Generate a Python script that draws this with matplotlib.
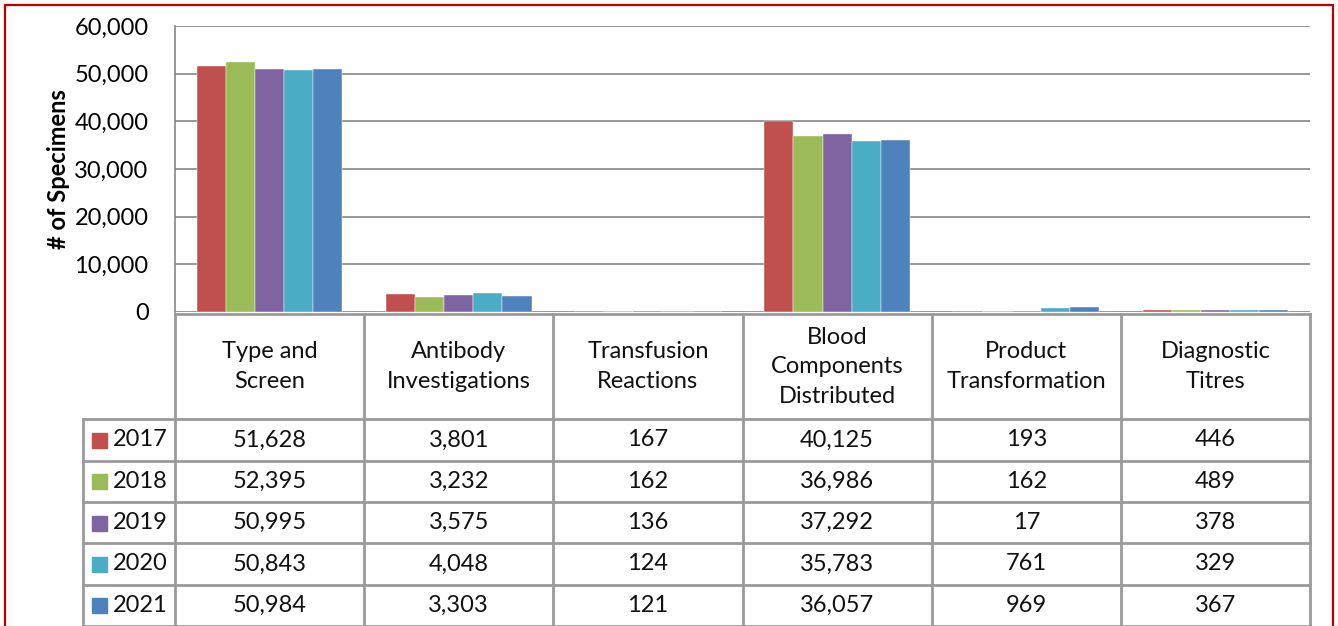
import matplotlib
matplotlib.use("Agg")
import matplotlib.pyplot as plt
from matplotlib.patches import Rectangle
from matplotlib.lines import Line2D
import numpy as np

categories = ["Type and\nScreen", "Antibody\nInvestigations", "Transfusion\nReactions",
              "Blood\nComponents\nDistributed", "Product\nTransformation", "Diagnostic\nTitres"]
years = ["2017", "2018", "2019", "2020", "2021"]
v2017 = [51628, 3801, 167, 40125, 193, 446]
v2018 = [52395, 3232, 162, 36986, 162, 489]
v2019 = [50995, 3575, 136, 37292, 17, 378]
v2020 = [50843, 4048, 124, 35783, 761, 329]
v2021 = [50984, 3303, 121, 36057, 969, 367]
series = [v2017, v2018, v2019, v2020, v2021]
colors = ["#C0504D", "#9BBB59", "#8064A2", "#4BACC6", "#4F81BD"]
yticks = [0, 10000, 20000, 30000, 40000, 50000, 60000]

FONT = "Lato"
FS = 17
W, H = 1338, 626
fig = plt.figure(figsize=(W / 100, H / 100), dpi=100)
fig.patch.set_facecolor("white")

# red border
fig.patches.append(Rectangle((5 / W, -0.05), (1333 - 5) / W, (H - 5) / H + 0.05,
                             transform=fig.transFigure, fill=False,
                             edgecolor="#C00000", linewidth=1.6))

L, R = 175, 1310
TOP, BASE = 26, 312
ax = fig.add_axes([L / W, (H - BASE) / H, (R - L) / W, (BASE - TOP) / H])
n = len(categories)
x = np.arange(n)
bw = 0.154
for i, (vals, c) in enumerate(zip(series, colors)):
    ax.bar(x + (i - 2) * bw, vals, width=bw, color=c, edgecolor="white", linewidth=0.3, zorder=3)
ax.set_xlim(-0.5, n - 0.5)
ax.set_ylim(0, 60000)
ax.set_yticks(yticks)
ax.set_yticklabels([f"{t:,}" for t in yticks], fontsize=FS, family=FONT)
ax.tick_params(axis="y", length=0, pad=19)
ax.set_xticks([])
ax.grid(axis="y", color="#868686", linewidth=1.2, zorder=0)
for s in ["top", "right", "bottom"]:
    ax.spines[s].set_visible(False)
ax.spines["left"].set_color("#868686")
ax.spines["left"].set_linewidth(1.2)
ax.set_ylabel("# of Specimens", fontsize=FS, family=FONT, fontweight="bold")
ax.yaxis.label.set_va("center")
ax.yaxis.set_label_coords(-(L - 58) / (R - L), 0.5)

# table axes
tax = fig.add_axes([L / W, 0, (R - L) / W, BASE / H])
tax.set_xlim(-0.5, n - 0.5)
hdr = 106
rowh = (H - BASE - hdr) / len(years)
tax.set_ylim(H - BASE, 0)
tax.axis("off")
lc = "#9A9A9A"
lw = 2.0
cw = (R - L) / n
legx = -0.5 - (L - 83) / cw
# horizontal lines
tax.add_line(Line2D([-0.5, n - 0.5], [0, 0], color=lc, lw=lw, clip_on=False))
for r in range(len(years) + 1):
    yy = hdr + r * rowh
    tax.add_line(Line2D([legx, n - 0.5], [yy, yy], color=lc, lw=lw, clip_on=False))
# vertical lines
for k in range(n + 1):
    tax.add_line(Line2D([k - 0.5, k - 0.5], [0, H - BASE + 5], color=lc, lw=lw, clip_on=False))
tax.add_line(Line2D([legx, legx], [hdr, H - BASE + 5], color=lc, lw=lw, clip_on=False))
# header text
for k, cat in enumerate(categories):
    tax.text(k, hdr / 2, cat, ha="center", va="center", fontsize=FS, family=FONT,
             linespacing=1.5, color="#111111")
# rows
for r, (yr, vals, c) in enumerate(zip(years, series, colors)):
    yc = hdr + (r + 0.5) * rowh
    tax.add_patch(Rectangle((legx + 9 / cw, yc - 7), 15 / cw, 15, color=c, clip_on=False))
    tax.text(legx + 30 / cw, yc, yr, ha="left", va="center", fontsize=FS, family=FONT, color="#111111")
    for k, v in enumerate(vals):
        tax.text(k, yc, f"{v:,}", ha="center", va="center", fontsize=FS, family=FONT, color="#111111")

fig.savefig("out.png", dpi=100)
